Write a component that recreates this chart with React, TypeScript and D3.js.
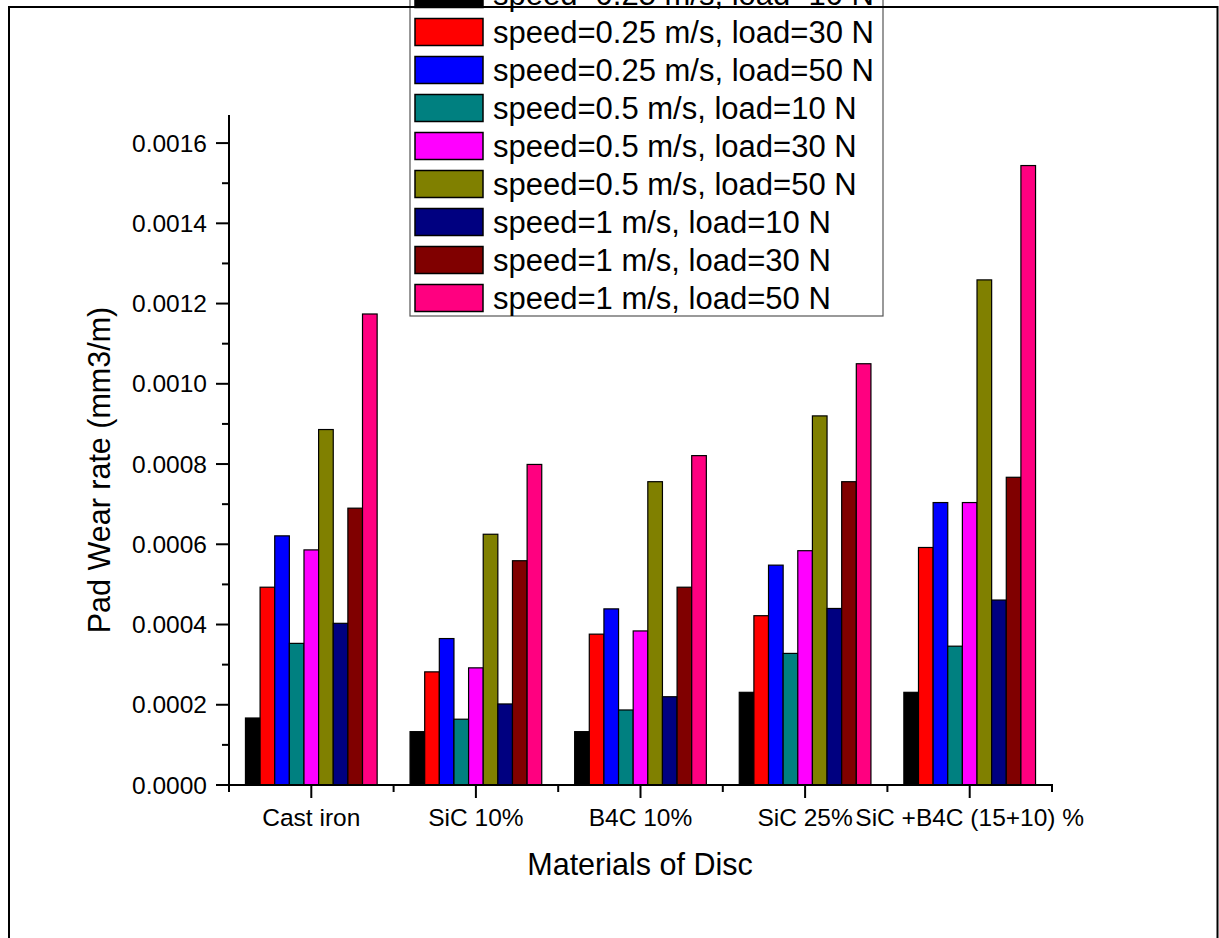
import React from "react";
import * as d3 from "d3";

// Disc materials (x categories)
const categories = ["Cast iron", "SiC 10%", "B4C 10%", "SiC 25%", "SiC +B4C (15+10) %"];

// Test conditions (legend entries)
const seriesLabels = [
  "speed=0.25 m/s, load=10 N",
  "speed=0.25 m/s, load=30 N",
  "speed=0.25 m/s, load=50 N",
  "speed=0.5 m/s, load=10 N",
  "speed=0.5 m/s, load=30 N",
  "speed=0.5 m/s, load=50 N",
  "speed=1 m/s, load=10 N",
  "speed=1 m/s, load=30 N",
  "speed=1 m/s, load=50 N",
];

// Pad wear rate (mm3/m) per material, one array per condition
const speed025Load10 = [0.000167, 0.000133, 0.000133, 0.000231, 0.000231];
const speed025Load30 = [0.000493, 0.000282, 0.000376, 0.000422, 0.000592];
const speed025Load50 = [0.000621, 0.000365, 0.000439, 0.000548, 0.000704];
const speed05Load10 = [0.000353, 0.000164, 0.000187, 0.000328, 0.000346];
const speed05Load30 = [0.000586, 0.000292, 0.000384, 0.000584, 0.000704];
const speed05Load50 = [0.000886, 0.000625, 0.000756, 0.00092, 0.001259];
const speed1Load10 = [0.000403, 0.000202, 0.00022, 0.00044, 0.000461];
const speed1Load30 = [0.00069, 0.000559, 0.000493, 0.000756, 0.000767];
const speed1Load50 = [0.001174, 0.000799, 0.000821, 0.00105, 0.001544];

const seriesValues = [
  speed025Load10, speed025Load30, speed025Load50,
  speed05Load10, speed05Load30, speed05Load50,
  speed1Load10, speed1Load30, speed1Load50,
];

const seriesColors = [
  "#000000", "#ff0000", "#0000ff", "#008080", "#ff00ff",
  "#808000", "#000080", "#800000", "#ff0080",
];

// Y axis ticks
const majorTicks = [0, 0.0002, 0.0004, 0.0006, 0.0008, 0.001, 0.0012, 0.0014, 0.0016];
const minorTicks = [0.0001, 0.0003, 0.0005, 0.0007, 0.0009, 0.0011, 0.0013, 0.0015];

const FONT = "'Liberation Sans', Arial, Helvetica, sans-serif";

export default function App() {
  const W = 1219;
  const H = 938;
  const left = 229;
  const right = 1052;
  const top = 115;
  const bottom = 785;

  const x0 = d3.scaleBand<string>().domain(categories).range([left, right]).padding(0);
  const bw = x0.bandwidth();
  const x1 = d3
    .scaleBand<string>()
    .domain(seriesLabels)
    .range([bw * 0.1, bw * 0.9])
    .padding(0);
  const y = d3.scaleLinear().domain([0, 0.00167]).range([bottom, top]);
  const fmt = d3.format(".4f");

  // Legend row positions
  const legendRow = d3.scaleLinear().domain([0, 1]).range([-6, 32]);

  const boundaries = categories.map((c) => x0(c) as number).concat([right]);

  return (
    <svg
      width={W}
      height={H}
      style={{ position: "absolute", left: 0, top: 0, background: "#fff" }}
      fontFamily={FONT}
    >
      <rect x={0} y={0} width={W} height={H} fill="#fff" />

      {/* bars */}
      <g>
        {seriesValues.map((vals, si) =>
          vals.map((v, ci) => {
            const bx = (x0(categories[ci]) as number) + (x1(seriesLabels[si]) as number);
            return (
              <rect
                key={`${si}-${ci}`}
                x={bx}
                y={y(v)}
                width={x1.bandwidth()}
                height={bottom - y(v)}
                fill={seriesColors[si]}
                stroke="#000"
                strokeWidth={1.2}
              />
            );
          })
        )}
      </g>

      {/* y axis */}
      <g stroke="#000" strokeWidth={2}>
        <line x1={left} x2={left} y1={top} y2={bottom + 1} />
        {majorTicks.map((t) => (
          <line key={`M${t}`} x1={left - 13} x2={left} y1={y(t)} y2={y(t)} />
        ))}
        {minorTicks.map((t) => (
          <line key={`m${t}`} x1={left - 7} x2={left} y1={y(t)} y2={y(t)} />
        ))}
      </g>
      <g fontSize={24.5} textAnchor="end" fill="#000">
        {majorTicks.map((t) => (
          <text key={`L${t}`} x={207} y={y(t)} dy="0.35em">
            {fmt(t)}
          </text>
        ))}
      </g>

      {/* x axis */}
      <g stroke="#000" strokeWidth={2}>
        <line x1={left - 1} x2={right + 1} y1={bottom} y2={bottom} />
        {categories.map((c) => {
          const cx = (x0(c) as number) + bw / 2;
          return <line key={`xc${c}`} x1={cx} x2={cx} y1={bottom} y2={bottom + 13} />;
        })}
        {boundaries.map((b, i) => (
          <line key={`xb${i}`} x1={b} x2={b} y1={bottom} y2={bottom + 7} />
        ))}
      </g>
      <g fontSize={24.5} textAnchor="middle" fill="#000">
        {categories.map((c) => (
          <text key={`xl${c}`} x={(x0(c) as number) + bw / 2} y={826}>
            {c}
          </text>
        ))}
      </g>

      {/* axis titles */}
      <text x={640} y={875} fontSize={30.5} textAnchor="middle" fill="#000">
        Materials of Disc
      </text>
      <text
        transform="translate(110,470) rotate(-90)"
        fontSize={30.5}
        textAnchor="middle"
        fill="#000"
      >
        Pad Wear rate (mm3/m)
      </text>

      {/* legend */}
      <g>
        <rect x={410} y={-30} width={473} height={346} fill="#fff" stroke="#555" strokeWidth={1.2} />
        {seriesLabels.map((s, i) => {
          const cy = legendRow(i);
          return (
            <g key={`lg${i}`}>
              <rect
                x={415}
                y={cy - 13.5}
                width={68}
                height={27}
                fill={seriesColors[i]}
                stroke="#000"
                strokeWidth={1.5}
              />
              <text x={493} y={cy + 11} fontSize={31} fill="#000">
                {s}
              </text>
            </g>
          );
        })}
      </g>

      {/* outer frame */}
      <rect x={9} y={7} width={1208.5} height={1000} fill="none" stroke="#000" strokeWidth={2} />
    </svg>
  );
}
